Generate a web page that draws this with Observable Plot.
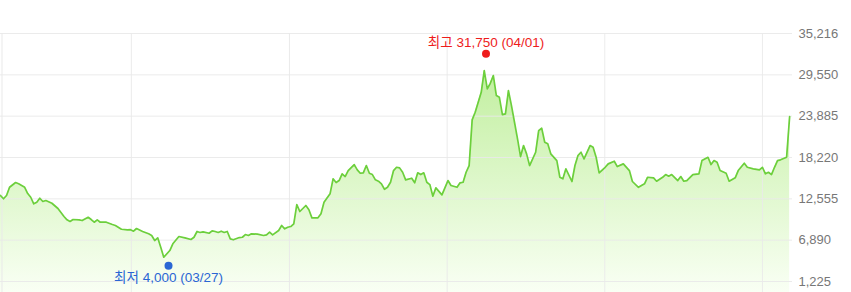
<!DOCTYPE html>
<html><head><meta charset="utf-8">
<script src="https://cdn.jsdelivr.net/npm/d3@7"></script>
<script src="https://cdn.jsdelivr.net/npm/@observablehq/plot@0.6"></script>
<style>html,body{margin:0;padding:0;background:#fff;}</style>
</head><body><div id="chart"></div>
<script>
const startDate = "2019-03-04";
const endDate = "2024-03-06";
const weeks = [0,1,2,3,5,6,8,9,10,11,12,13,14,15,17,19,21,22,23,24,26,27,29,30,31,32,33,35,37,38,40,42,43,44,45,47,49,50,51,52,53,54,56,57,59,61,63,64,65,66,67,69,70,71,72,73,74,75,76,77,79,80,81,82,83,85,87,88,89,90,92,93,94,95,96,97,98,99,101,102,103,105,106,107,109,110,111,112,113,114,115,117,118,119,120,121,122,123,124,125,126,127,128,129,130,131,132,133,134,136,137,138,139,140,141,142,143,144,146,148,149,151,152,153,154,155,156,157,159,160,161,162,163,164,165,166,167,168,169,170,171,172,173,174,175,177,178,179,180,181,182,184,185,186,187,189,190,191,192,193,195,196,197,198,200,201,203,204,206,208,209,211,213,214,216,217,219,220,221,222,224,225,226,227,229,231,232,234,235,236,237,238,240,241,243,244,246,247,249,251,252,253,254,255,256,257,258,260,261];
const prices = [13010,12560,13010,14140,14790,14610,14140,13280,12770,11870,12090,12640,12190,12320,11950,11230,10130,9680,9450,9720,9680,9580,10030,9720,9350,9680,9350,9350,9030,8900,8390,8310,8330,8120,8490,8080,7760,7530,6840,7210,5920,4550,5470,6390,7390,7210,6980,7290,8080,7940,8030,7840,8170,8080,7940,8120,7940,8080,7070,6940,7250,7290,7660,7530,7760,7710,7530,7620,7980,7620,8210,8900,8440,8660,8760,9130,11770,10820,11640,11050,9950,9950,10500,12090,13240,15300,14790,15060,15980,15610,16430,17250,16530,16060,16120,17120,16060,15880,15160,14970,14610,13870,14140,14830,16430,16880,16800,16200,15160,15380,14750,16120,15880,16120,14830,14510,12910,14060,13100,15060,14380,14140,14750,14830,16200,17120,23380,24420,27160,30130,27620,28390,29450,26710,26470,24100,24200,27390,25340,23050,20770,18350,19860,18720,17120,18940,21910,22230,20310,20090,18720,17800,15510,15300,16670,14930,17120,18490,18940,18030,19860,19620,18250,16120,16880,17350,17710,16980,17350,16430,14930,14140,14610,15510,15430,14970,15510,15880,15650,15880,15060,15610,14970,15060,15880,15980,17800,18250,17250,17800,17570,16430,16060,14970,15430,16430,17430,16880,16670,16530,16880,15980,16200,15880,16880,17800,17900,18250,23830];
const yTicks = [1225, 6890, 12555, 18220, 23885, 29550, 35216];
const yearLines = ["2020-01-01","2021-01-01","2022-01-01","2023-01-01","2024-01-01"];
const extremeDates = ["2020-03-27", "2022-04-01"];
const extremeValues = [4000, 31750];
const extremeLabels = ["최저 4,000 (03/27)", "최고 31,750 (04/01)"];
const extremeColors = ["#2a66d4", "#ee1c1c"];

const parse = s => new Date(s + "T00:00:00Z");
const t0 = parse(startDate);
const data = weeks.map((w, i) => ({date: new Date(+t0 + w * 7 * 864e5), value: prices[i]}));
const ext = extremeDates.map((d, i) => ({date: parse(d), value: extremeValues[i], label: extremeLabels[i], color: extremeColors[i]}));
const baseline = -400;
const fmt = d3.format(",");

const defs = () => {
  const d = d3.create("svg:defs");
  const g = d.append("linearGradient").attr("id", "areaGrad")
    .attr("gradientUnits", "userSpaceOnUse").attr("x1", 0).attr("x2", 0).attr("y1", 70).attr("y2", 292);
  g.append("stop").attr("offset", "0%").attr("stop-color", "#c2efa0");
  g.append("stop").attr("offset", "100%").attr("stop-color", "#f9fff4");
  return d.node();
};

const gridColor = "#e9e9e9";
const chart = Plot.plot({
  width: 851, height: 292,
  marginTop: 33, marginBottom: 0, marginLeft: 0, marginRight: 59,
  style: {fontFamily: "'Liberation Sans', 'Noto Sans CJK KR', sans-serif", fontSize: "13px", background: "#fff", color: "#777", overflow: "visible"},
  x: {type: "utc", domain: [t0, parse(endDate)], range: [0, 790], axis: null},
  y: {domain: [1225, 35216], range: [281, 33], axis: "right", ticks: yTicks, tickFormat: d => fmt(d), tickSize: 0, tickPadding: 6, label: null},
  marks: [
    defs,
    Plot.areaY(data, {x: "date", y1: () => baseline, y2: "value", fill: "url(#areaGrad)"}),
    Plot.ruleY(yTicks, {stroke: gridColor, strokeOpacity: 0.9}),
    Plot.ruleX(yearLines.map(parse), {stroke: gridColor, strokeOpacity: 0.9}),
    Plot.ruleX([t0], {stroke: gridColor, dx: 1.5}),
    Plot.lineY(data, {x: "date", y: "value", stroke: "#6ccf3c", strokeWidth: 1.7}),
    Plot.dot([ext[0]], {x: "date", y: "value", r: 4, fill: "color", dy: 4.5}),
    Plot.dot([ext[1]], {x: "date", y: "value", r: 4, fill: "color", dy: -5}),
    Plot.text([ext[0]], {x: "date", y: "value", text: "label", fill: "color", dy: 16, fontSize: 13.5, textAnchor: "middle"}),
    Plot.text([ext[1]], {x: "date", y: "value", text: "label", fill: "color", dy: -16.5, fontSize: 13.5, textAnchor: "middle"})
  ]
});
document.getElementById("chart").appendChild(chart);
</script>
</body></html>
